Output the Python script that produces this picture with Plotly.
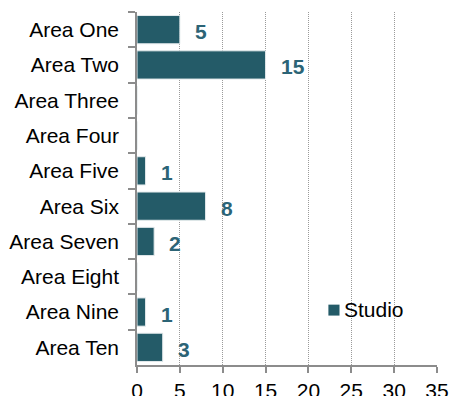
import plotly.graph_objects as go

# Studio counts per area
areas = ["Area One", "Area Two", "Area Three", "Area Four", "Area Five",
         "Area Six", "Area Seven", "Area Eight", "Area Nine", "Area Ten"]
studio = [5, 15, 0, 0, 1, 8, 2, 0, 1, 3]
series_name = "Studio"
x_ticks = [0, 5, 10, 15, 20, 25, 30, 35]

BAR = "#245b68"
LABEL = "#2c6476"
AXIS = "#8c8c8c"
FONT = "Liberation Sans, Arial, sans-serif"
FS = 21

fig = go.Figure()
fig.add_trace(go.Bar(
    x=studio, y=areas, orientation="h", name=series_name,
    width=0.8, marker=dict(color=BAR, line=dict(color="#e4eaec", width=1)),
    showlegend=False, hoverinfo="x+y",
))

# value labels to the right of non-empty bars
for a, v in zip(areas, studio):
    if v > 0:
        fig.add_annotation(
            x=v, y=a, text=str(v), showarrow=False, xanchor="left",
            xshift=13, yshift=-2,
            font=dict(family=FONT, size=FS, color=LABEL, weight="bold"),
        )

# legend entry: colour swatch + name
fig.add_shape(type="rect", xref="paper", yref="paper",
              x0=0.638, x1=0.675, y0=0.140, y1=0.171,
              fillcolor=BAR, line=dict(width=0))
fig.add_annotation(xref="paper", yref="paper", x=0.683, y=0.156,
                   text=series_name, showarrow=False, xanchor="left", yanchor="middle",
                   font=dict(family=FONT, size=FS, color="#000"))

fig.update_layout(
    width=450, height=396,
    margin=dict(l=137, r=13, t=12, b=31),
    paper_bgcolor="white", plot_bgcolor="white",
    font=dict(family=FONT, size=FS, color="#000"),
    bargap=0.2,
    xaxis=dict(
        range=[0, 35], tickvals=x_ticks, ticktext=[str(t) for t in x_ticks],
        showgrid=True, gridcolor="#9a9a9a", griddash="1px,1px", gridwidth=1,
        showline=True, linecolor=AXIS, linewidth=1.5,
        ticks="outside", ticklen=6, tickcolor=AXIS, tickwidth=1.5,
        zeroline=False, fixedrange=True, automargin=False,
    ),
    yaxis=dict(
        categoryorder="array", categoryarray=areas, autorange="reversed",
        showline=True, linecolor=AXIS, linewidth=1.5,
        ticks="outside", ticklen=7, tickcolor=AXIS, tickwidth=1.5,
        tickson="boundaries", showgrid=False, zeroline=False,
        ticklabelstandoff=12, fixedrange=True, automargin=False,
    ),
)

fig.write_html("out.html")
